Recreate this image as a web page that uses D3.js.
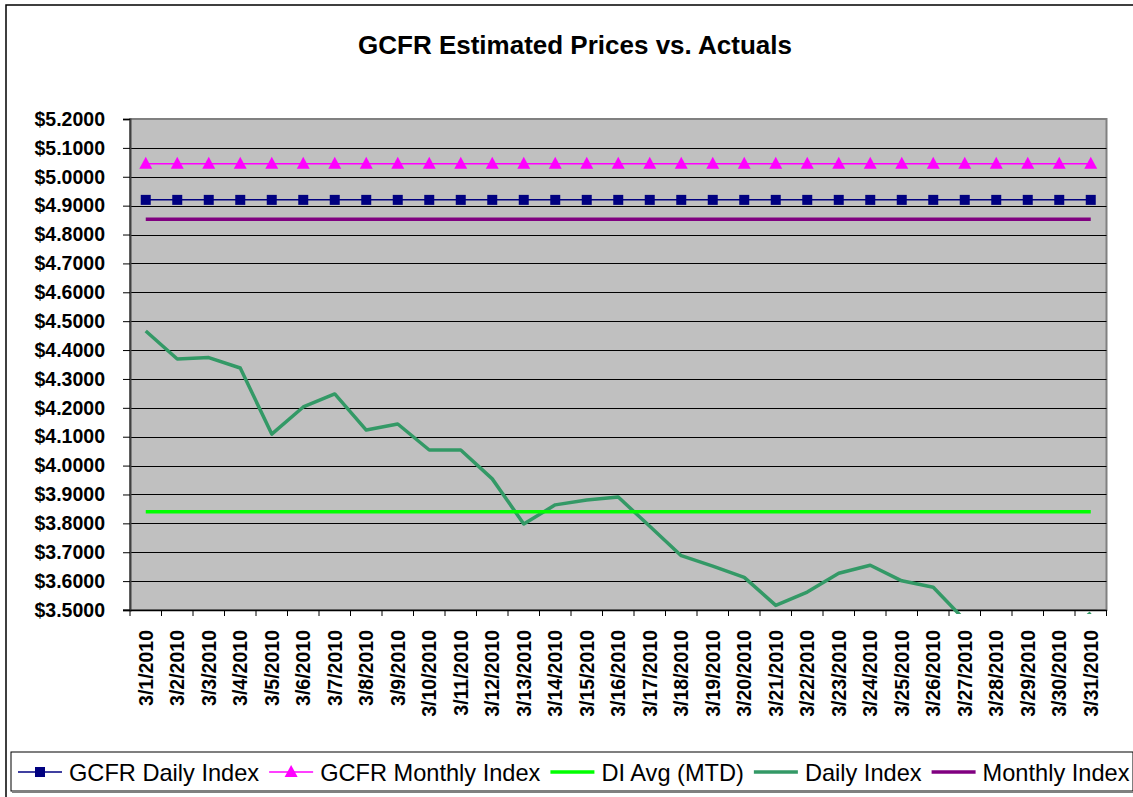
<!DOCTYPE html>
<html>
<head>
<meta charset="utf-8">
<script src="https://cdn.jsdelivr.net/npm/d3@7"></script>
<style>
  html, body { margin: 0; padding: 0; background: #fff; }
  svg { display: block; font-family: Arial, "Liberation Sans", sans-serif; }
</style>
</head>
<body>
<svg id="chart" width="1133" height="797"></svg>
<script>
const dates = ["3/1/2010","3/2/2010","3/3/2010","3/4/2010","3/5/2010","3/6/2010","3/7/2010","3/8/2010","3/9/2010","3/10/2010","3/11/2010","3/12/2010","3/13/2010","3/14/2010","3/15/2010","3/16/2010","3/17/2010","3/18/2010","3/19/2010","3/20/2010","3/21/2010","3/22/2010","3/23/2010","3/24/2010","3/25/2010","3/26/2010","3/27/2010","3/28/2010","3/29/2010","3/30/2010","3/31/2010"];
const gcfrDailyIndex = Array(31).fill(4.92);
const gcfrMonthlyIndex = Array(31).fill(5.045);
const diAvgMTD = Array(31).fill(3.84);
const dailyIndex = [4.466,4.369,4.374,4.338,4.109,4.203,4.248,4.123,4.144,4.054,4.054,3.954,3.798,3.864,3.881,3.891,3.790,3.688,3.652,3.613,3.516,3.562,3.627,3.655,3.601,3.579,3.465,3.43,3.41,3.40,3.49];
const monthlyIndex = Array(31).fill(4.853);
const yTicks = [3.5,3.6,3.7,3.8,3.9,4.0,4.1,4.2,4.3,4.4,4.5,4.6,4.7,4.8,4.9,5.0,5.1,5.2];
const title = "GCFR Estimated Prices vs. Actuals";

const series = [
  {name: "GCFR Daily Index", values: gcfrDailyIndex, color: "#000080", width: 1.5, marker: "square"},
  {name: "GCFR Monthly Index", values: gcfrMonthlyIndex, color: "#FF00FF", width: 1.5, marker: "triangle"},
  {name: "DI Avg (MTD)", values: diAvgMTD, color: "#00FF00", width: 3.5, marker: null},
  {name: "Daily Index", values: dailyIndex, color: "#339966", width: 3.5, marker: null},
  {name: "Monthly Index", values: monthlyIndex, color: "#800080", width: 3.5, marker: null}
];

const svg = d3.select("#chart");
const pLeft = 130, pRight = 1106.5, pTop = 119, pBottom = 610;

// outer chart border
svg.append("rect").attr("x", 6).attr("y", 5).attr("width", 1150).attr("height", 820)
  .attr("fill", "#fff").attr("stroke", "#000").attr("stroke-width", 1.5);

svg.append("text").attr("x", 575).attr("y", 54).attr("text-anchor", "middle")
  .attr("font-size", 26).attr("font-weight", "bold").text(title);

const x = d3.scaleBand().domain(dates).range([pLeft, pRight]).padding(0);
const y = d3.scaleLinear().domain([3.5, 5.2]).range([pBottom, pTop]);

// plot background
svg.append("rect").attr("x", pLeft).attr("y", pTop).attr("width", pRight - pLeft).attr("height", pBottom - pTop)
  .attr("fill", "#C0C0C0").attr("stroke", "#808080").attr("stroke-width", 2);

// gridlines
svg.append("g").selectAll("line").data(yTicks.filter(t => t > 3.5 && t < 5.2)).join("line")
  .attr("x1", pLeft).attr("x2", pRight).attr("y1", d => Math.round(y(d)) + 0.5).attr("y2", d => Math.round(y(d)) + 0.5)
  .attr("stroke", "#000").attr("stroke-width", 1);

// y axis
const yAxis = d3.axisLeft(y).tickValues(yTicks).tickSize(7).tickPadding(18)
  .tickFormat(d => "$" + d3.format(".4f")(d));
const gy = svg.append("g").attr("transform", `translate(${pLeft},0)`).call(yAxis);
gy.select(".domain").attr("stroke", "#404040").attr("stroke-width", 2);
gy.selectAll(".tick line").attr("stroke", "#000");
gy.selectAll("text").attr("font-size", 19.5).attr("font-weight", "bold").attr("fill", "#000")
  .attr("font-family", "Arial, 'Liberation Sans', sans-serif");

// x axis
const xAxis = d3.axisBottom(x).tickSize(0).tickPadding(0);
const gx = svg.append("g").attr("transform", `translate(0,${pBottom})`).call(xAxis);
gx.select(".domain").attr("stroke", "#000").attr("stroke-width", 1.5);
gx.selectAll(".tick text")
  .attr("font-size", 19.5).attr("font-weight", "bold").attr("fill", "#000")
  .attr("font-family", "Arial, 'Liberation Sans', sans-serif")
  .attr("text-anchor", "end").attr("transform", "rotate(-90)")
  .attr("x", -20).attr("y", 0).attr("dy", "0.36em");
// x ticks at band boundaries
svg.append("g").selectAll("line").data(dates.concat(["__end"])).join("line")
  .attr("x1", (d, i) => x.range()[0] + i * x.step()).attr("x2", (d, i) => x.range()[0] + i * x.step())
  .attr("y1", pBottom).attr("y2", pBottom + 6).attr("stroke", "#000").attr("stroke-width", 1);
svg.append("line").attr("x1", pLeft - 7).attr("x2", pLeft).attr("y1", pBottom).attr("y2", pBottom).attr("stroke", "#000");

// clip
svg.append("clipPath").attr("id", "clip").append("rect")
  .attr("x", pLeft).attr("y", pTop).attr("width", pRight - pLeft).attr("height", pBottom - pTop + 4);

const xc = d => x(d) + x.bandwidth() / 2;
const line = d3.line().x((d, i) => xc(dates[i])).y(d => y(d));
const tri = (cx, cy) => `M${cx},${cy-7}L${cx+6.5},${cy+5}L${cx-6.5},${cy+5}Z`;

const plot = svg.append("g").attr("clip-path", "url(#clip)");
const drawOrder = [3, 2, 4, 0, 1];
drawOrder.forEach(k => {
  const s = series[k];
  plot.append("path").datum(s.values).attr("d", line).attr("fill", "none")
    .attr("stroke", s.color).attr("stroke-width", s.width).attr("stroke-linejoin", "round");
  if (s.marker === "square") {
    plot.append("g").selectAll("rect").data(s.values).join("rect")
      .attr("x", (d, i) => xc(dates[i]) - 5).attr("y", d => y(d) - 5)
      .attr("width", 10).attr("height", 10).attr("fill", s.color);
  } else if (s.marker === "triangle") {
    plot.append("g").selectAll("path").data(s.values).join("path")
      .attr("d", (d, i) => tri(xc(dates[i]), y(d)))
      .attr("fill", s.color);
  }
});

// legend
const lg = svg.append("g");
lg.append("rect").attr("x", 11).attr("y", 752).attr("width", 1122).attr("height", 39)
  .attr("fill", "#fff").attr("stroke", "#000").attr("stroke-width", 1);
lg.append("line").attr("x1", 12).attr("x2", 1133).attr("y1", 792).attr("y2", 792).attr("stroke", "#808080").attr("stroke-width", 2);
let lx = 18;
const ly = 772;
series.forEach(s => {
  lg.append("line").attr("x1", lx).attr("x2", lx + 44).attr("y1", ly).attr("y2", ly)
    .attr("stroke", s.color).attr("stroke-width", s.width);
  const mx = lx + 22;
  if (s.marker === "square") {
    lg.append("rect").attr("x", mx - 5).attr("y", ly - 5).attr("width", 10).attr("height", 10).attr("fill", s.color);
  } else if (s.marker === "triangle") {
    lg.append("path").attr("d", tri(mx, ly)).attr("fill", s.color);
  }
  const t = lg.append("text").attr("x", lx + 51).attr("y", ly + 8.5).attr("font-size", 23.6).attr("fill", "#000").text(s.name);
  lx = lx + 51 + t.node().getComputedTextLength() + 10;
});
</script>
</body>
</html>
